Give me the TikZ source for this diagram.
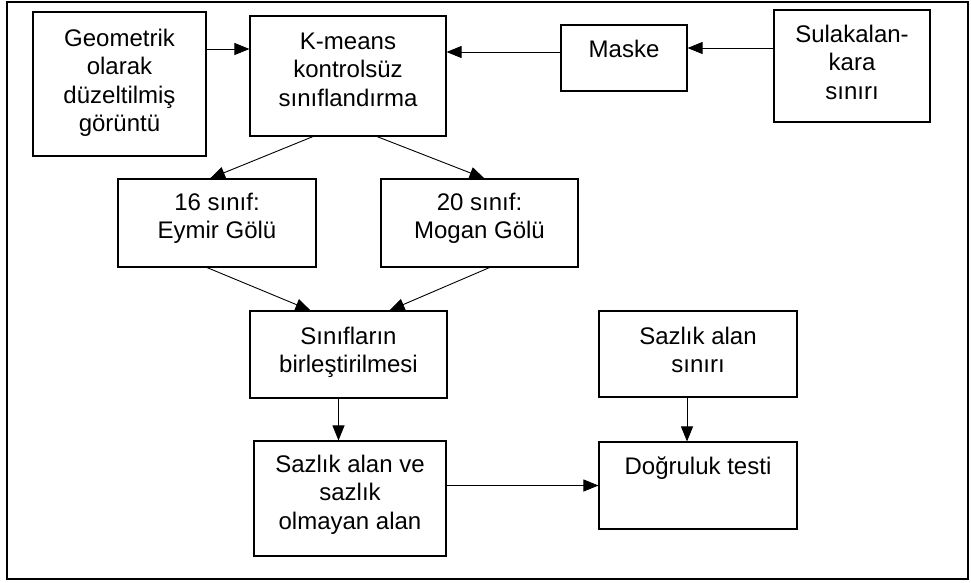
\documentclass[tikz,border=0pt]{standalone}
\usepackage{fontspec}
\setmainfont{Liberation Sans}
\usetikzlibrary{arrows.meta}
\tikzset{box/.style={draw,line width=1.1pt,inner sep=0pt},
  btext/.style={anchor=north,align=center,inner sep=0pt,
  font=\fontsize{24}{28.5}\selectfont},
  flow/.style={-{Triangle[length=15pt,width=12pt]},line width=0.9pt}}

\begin{document}
\begin{tikzpicture}[x=1pt,y=-1pt]
 \useasboundingbox (0,0) rectangle (971,582);
 \draw[line width=1.1pt] (7,2) rectangle (968,579);
 % top row
 \node[box,minimum width=173pt,minimum height=144pt] (geo) at (119.5,84) {};
 \node[box,minimum width=196pt,minimum height=120pt] (kmeans) at (348,76) {};
 \node[box,minimum width=126pt,minimum height=66pt] (maske) at (624,58) {};
 \node[box,minimum width=156pt,minimum height=112pt] (sulak) at (852,66) {};
 \node[btext] (geo-t) at ([yshift=-17pt]geo.north)
  {Geometrik\\olarak\\düzeltilmiş\\görüntü};
 \node[btext] (kmeans-t) at ([yshift=-17pt]kmeans.north)
  {K-means\\kontrolsüz\\sınıflandırma};
 \node[btext] (maske-t) at ([yshift=-15pt]maske.north) {Maske};
 \node[btext] (sulak-t) at ([yshift=-15pt]sulak.north)
  {Sulakalan-\\kara\\sınırı};
 % classes
 \node[box,minimum width=198pt,minimum height=88pt] (s16) at (217,223) {};
 \node[box,minimum width=197pt,minimum height=88pt] (s20) at (479.5,223) {};
 \node[btext] (s16-t) at ([yshift=-14pt]s16.north) {16 sınıf:\\Eymir Gölü};
 \node[btext] (s20-t) at ([yshift=-14pt]s20.north) {20 sınıf:\\Mogan Gölü};
 % lower part
 \node[box,minimum width=197pt,minimum height=87pt] (birles) at (348.5,354.5) {};
 \node[box,minimum width=198pt,minimum height=86pt] (sinir) at (698,354) {};
 \node[box,minimum width=192pt,minimum height=115pt] (sazlik) at (350,498.5) {};
 \node[box,minimum width=198pt,minimum height=87pt] (dogru) at (698,485.5) {};
 \node[btext] (birles-t) at ([yshift=-16pt]birles.north)
  {Sınıfların\\birleştirilmesi};
 \node[btext] (sinir-t) at ([yshift=-16pt]sinir.north) {Sazlık alan\\sınırı};
 \node[btext] (sazlik-t) at ([yshift=-14pt]sazlik.north)
  {Sazlık alan ve\\sazlık\\olmayan alan};
 \node[btext] (dogru-t) at ([yshift=-15pt]dogru.north) {Doğruluk testi};
 % connectors
 \draw[flow] ([yshift=35pt]geo.east) -- ([yshift=35pt]geo.east -| kmeans.west);
 \draw[flow] ([yshift=6pt]maske.west) -- ([yshift=6pt]maske.west -| kmeans.east);
 \draw[flow] ([yshift=18pt]sulak.west) -- ([yshift=18pt]sulak.west -| maske.east);
 \draw[flow] ([xshift=-35pt]kmeans.south) -- ([xshift=-7pt]s16.north);
 \draw[flow] ([xshift=29pt]kmeans.south) -- ([xshift=5pt]s20.north);
 \draw[flow] ([xshift=-10pt]s16.south) -- ([xshift=-38pt]birles.north);
 \draw[flow] ([xshift=10pt]s20.south) -- ([xshift=41pt]birles.north);
 \draw[flow] ([xshift=-10pt]birles.south) -- ([xshift=-10pt]birles.south |- sazlik.north);
 \draw[flow] ([xshift=-11pt]sinir.south) -- ([xshift=-11pt]sinir.south |- dogru.north);
 \draw[flow] (sazlik.east |- dogru.west) -- (dogru.west);
\end{tikzpicture}
\end{document}
